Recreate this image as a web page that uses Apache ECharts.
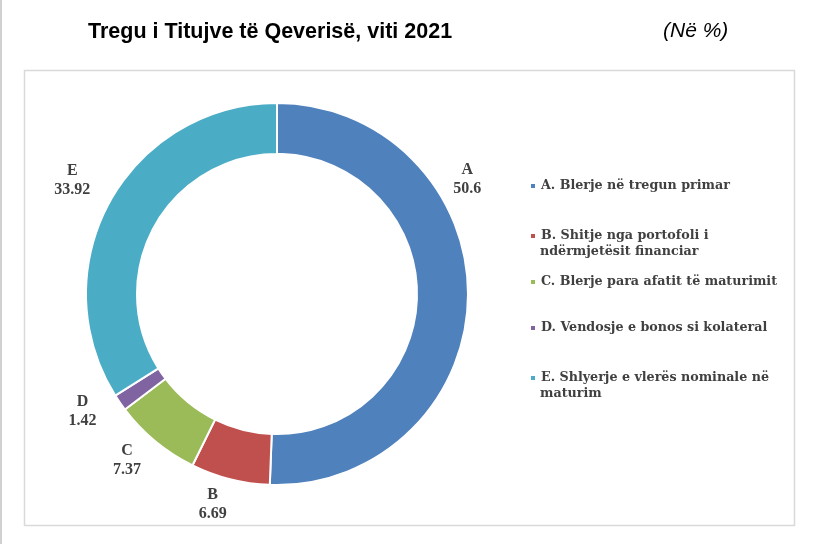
<!DOCTYPE html>
<html><head><meta charset="utf-8">
<script src="https://cdn.jsdelivr.net/npm/echarts@6/dist/echarts.min.js"></script>
<style>html,body{margin:0;padding:0;background:#fff}#c{width:815px;height:544px}</style>
</head><body><div id="c"></div>
<script>
const categories = ['A', 'B', 'C', 'D', 'E'];
const legendNames = [
  'A. Blerje në tregun primar',
  'B. Shitje nga portofoli i\nndërmjetësit financiar',
  'C. Blerje para afatit të maturimit',
  'D. Vendosje e bonos si kolateral',
  'E. Shlyerje e vlerës nominale në\nmaturim'
];
const values = [50.6, 6.69, 7.37, 1.42, 33.92];
const valueLabels = ['50.6', '6.69', '7.37', '1.42', '33.92'];

const colors = ['#4F81BD', '#C0504D', '#9BBB59', '#8064A2', '#4BACC6'];
const legendLeft = 529;
const legendTops = [178, 228, 274, 320, 370];
const labelAngles = [59, 197, 222, 239, 299];
const labelRadii = [222, 220, 224, 227, 234];
const center = [277, 294];

const chart = echarts.init(document.getElementById('c'));
const serif = '"Liberation Serif", "Times New Roman", serif';
const legendFont = '"DejaVu Serif", serif';
const legendStyle = { fontFamily: legendFont, fontWeight: 'bold', fontSize: 12.7, color: '#404040', lineHeight: 16 };

const legends = legendNames.map((n, i) => ({
  orient: 'vertical', left: legendLeft, top: legendTops[i], padding: 0,
  itemWidth: 6, itemHeight: 6, icon: 'rect',
  data: [n],
  formatter: name => name.split('\n')[0],
  textStyle: legendStyle,
  itemGap: 0
}));

// continuation lines of the two-line legend entries
const continuation = [];
legendNames.forEach((n, i) => {
  const lines = n.split('\n');
  lines.slice(1).forEach((l, k) => {
    continuation.push({
      type: 'text', silent: true,
      style: {
        x: legendLeft + 11, y: legendTops[i] + 8 + 16 * (k + 1),
        text: l, textAlign: 'left', textVerticalAlign: 'middle', verticalAlign: 'middle',
        font: 'bold 12.7px ' + legendFont, fill: '#404040'
      }
    });
  });
});

chart.setOption({
  animation: false,
  color: colors,
  title: [
    { text: 'Tregu i Titujve të Qeverisë, viti 2021', left: 83, top: 16,
      textStyle: { fontFamily: '"Liberation Sans", Arial, sans-serif', fontWeight: 'bold', fontSize: 21.5, color: '#000' } },
    { text: '(Në %)', left: 658, top: 16,
      textStyle: { fontFamily: '"Liberation Sans", Arial, sans-serif', fontStyle: 'italic', fontWeight: 'normal', fontSize: 21, color: '#000' } }
  ],
  graphic: [
    { type: 'rect', shape: { x: 24.5, y: 70.5, width: 770, height: 455 }, style: { fill: 'none', stroke: '#d9d9d9', lineWidth: 1.5 }, silent: true },
    { type: 'rect', shape: { x: 0, y: 0, width: 2, height: 544 }, style: { fill: '#d0d0d0' }, silent: true }
  ].concat(continuation),
  legend: legends,
  series: [{
    type: 'pie',
    center: center,
    radius: [140, 191],
    startAngle: 90,
    clockwise: true,
    itemStyle: { borderColor: '#fff', borderWidth: 2 },
    label: {
      show: true, position: 'outside',
      formatter: p => categories[p.dataIndex] + '\n' + valueLabels[p.dataIndex],
      fontFamily: serif, fontWeight: 'bold', fontSize: 16, lineHeight: 19, color: '#404040', align: 'center'
    },
    labelLine: { show: false, length: 10, length2: 0 },
    labelLayout: function (p) {
      const i = p.dataIndex;
      const a = labelAngles[i] * Math.PI / 180;
      return {
        x: center[0] + labelRadii[i] * Math.sin(a),
        y: center[1] - labelRadii[i] * Math.cos(a),
        align: 'center', verticalAlign: 'middle'
      };
    },
    data: values.map((v, i) => ({ name: legendNames[i], value: v }))
  }]
});
</script></body></html>
